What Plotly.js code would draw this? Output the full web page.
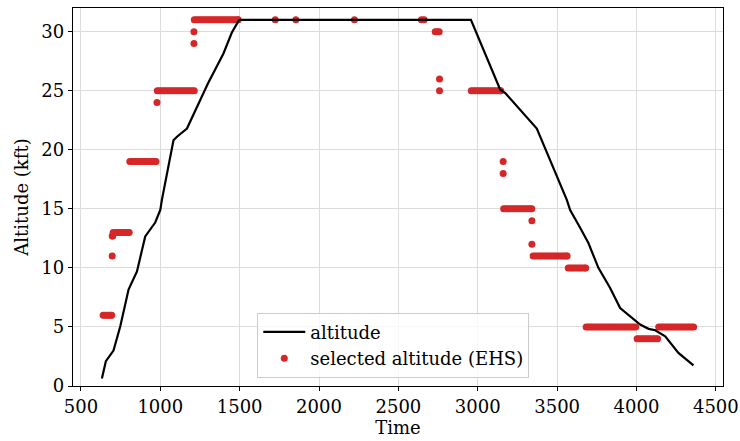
<!DOCTYPE html>
<html>
<head>
<meta charset="utf-8">
<script src="https://cdn.plot.ly/plotly-3.0.1.min.js"></script>
<style>html,body{margin:0;padding:0;background:#fff;}#chart{width:740px;height:441px;}</style>
</head>
<body>
<div id="chart"></div>
<script>
// Altitude (line), time in seconds, altitude in kft
var altTime = [632, 657, 705, 748, 800, 853, 905, 968, 1000, 1010, 1083, 1105, 1168, 1231, 1300, 1398, 1450, 1493, 1500, 2957, 3141, 3173, 3372, 3561, 3582, 3645, 3697, 3760, 3834, 3897, 3971, 4023, 4076, 4118, 4181, 4264, 4359];
var altKft  = [0.64, 2.1, 3.0, 5.06, 8.16, 9.7, 12.66, 13.84, 14.9, 15.76, 20.8, 21.1, 21.8, 23.6, 25.6, 28.15, 29.9, 30.9, 31.0, 31.0, 25.1, 24.8, 21.8, 15.76, 14.9, 13.4, 12.1, 10.0, 8.3, 6.6, 5.77, 5.2, 4.84, 4.72, 4.2, 2.8, 1.74];

// Selected altitude (EHS) points
var selTime = [
  640, 652, 664, 676, 688, 694,
  697,
  697, 700,
  703, 716, 729, 742, 755, 768, 781, 794, 804,
  808, 821, 834, 847, 860, 873, 886, 899, 912, 925, 938, 951, 964, 973,
  979,
  981, 994, 1007, 1020, 1033, 1046, 1059, 1072, 1085, 1098, 1111, 1124, 1137, 1150, 1163, 1176, 1189, 1202, 1214,
  1212,
  1212,
  1214, 1227, 1240, 1253, 1266, 1279, 1292, 1305, 1318, 1331, 1344, 1357, 1370, 1383, 1396, 1409, 1422, 1435, 1448, 1461, 1474, 1487, 1491,
  1724, 1854, 2223, 2645, 2662,
  2732, 2745, 2757,
  2759,
  2759,
  2959, 2972, 2985, 2998, 3011, 3024, 3037, 3050, 3063, 3076, 3089, 3102, 3115, 3128, 3141, 3145,
  3160,
  3160,
  3163, 3176, 3189, 3202, 3215, 3228, 3241, 3254, 3267, 3280, 3293, 3306, 3319, 3332, 3340,
  3341,
  3341,
  3349, 3362, 3375, 3388, 3401, 3414, 3427, 3440, 3453, 3466, 3479, 3492, 3505, 3518, 3531, 3544, 3557, 3563,
  3570, 3583, 3596, 3609, 3622, 3635, 3648, 3661, 3674, 3680,
  3683, 3696, 3709, 3722, 3735, 3748, 3761, 3774, 3787, 3800, 3813, 3826, 3839, 3852, 3865, 3878, 3891, 3904, 3917, 3930, 3943, 3956, 3969, 3982, 3995,
  4004, 4017, 4030, 4043, 4056, 4069, 4082, 4095, 4108, 4121, 4133,
  4140, 4153, 4166, 4179, 4192, 4205, 4218, 4231, 4244, 4257, 4270, 4283, 4296, 4309, 4322, 4335, 4348, 4360
];
var selKft = [
  6, 6, 6, 6, 6, 6,
  11,
  12.7, 12.7,
  13, 13, 13, 13, 13, 13, 13, 13, 13,
  19, 19, 19, 19, 19, 19, 19, 19, 19, 19, 19, 19, 19, 19,
  24,
  25, 25, 25, 25, 25, 25, 25, 25, 25, 25, 25, 25, 25, 25, 25, 25, 25, 25, 25,
  29,
  30,
  31, 31, 31, 31, 31, 31, 31, 31, 31, 31, 31, 31, 31, 31, 31, 31, 31, 31, 31, 31, 31, 31, 31,
  31, 31, 31, 31, 31,
  30, 30, 30,
  26,
  25,
  25, 25, 25, 25, 25, 25, 25, 25, 25, 25, 25, 25, 25, 25, 25, 25,
  19,
  18,
  15, 15, 15, 15, 15, 15, 15, 15, 15, 15, 15, 15, 15, 15, 15,
  14,
  12,
  11, 11, 11, 11, 11, 11, 11, 11, 11, 11, 11, 11, 11, 11, 11, 11, 11, 11,
  10, 10, 10, 10, 10, 10, 10, 10, 10, 10,
  5, 5, 5, 5, 5, 5, 5, 5, 5, 5, 5, 5, 5, 5, 5, 5, 5, 5, 5, 5, 5, 5, 5, 5, 5,
  4, 4, 4, 4, 4, 4, 4, 4, 4, 4, 4,
  5, 5, 5, 5, 5, 5, 5, 5, 5, 5, 5, 5, 5, 5, 5, 5, 5, 5
];

var xTicks = [500, 1000, 1500, 2000, 2500, 3000, 3500, 4000, 4500];
var yTicks = [0, 5, 10, 15, 20, 25, 30];

var traces = [
  {
    x: selTime, y: selKft, type: 'scatter', mode: 'markers',
    name: 'selected altitude (EHS)', legendrank: 2,
    marker: {color: '#d62728', size: 7, line: {width: 0}}
  },
  {
    x: altTime, y: altKft, type: 'scatter', mode: 'lines',
    name: 'altitude', legendrank: 1,
    line: {color: '#000000', width: 2.2}
  }
];

var axisCommon = {
  showgrid: true, gridcolor: '#dcdcdc', gridwidth: 1,
  zeroline: false, showline: true, linecolor: '#000', linewidth: 1.2, mirror: true,
  ticks: 'outside', ticklen: 4, tickcolor: '#000', tickwidth: 1,
  tickfont: {size: 18, color: '#000'}
};

var layout = {
  width: 740, height: 441,
  margin: {l: 73, r: 17, t: 8, b: 55},
  paper_bgcolor: '#fff', plot_bgcolor: '#fff',
  font: {family: '"DejaVu Serif", serif', size: 18, color: '#000'},
  showlegend: true,
  xaxis: Object.assign({}, axisCommon, {
    range: [450, 4545], tickvals: xTicks, ticktext: xTicks.map(String),
    title: {text: 'Time', font: {size: 18}, standoff: 5}
  }),
  yaxis: Object.assign({}, axisCommon, {
    range: [0, 32.0], tickvals: yTicks, ticktext: yTicks.map(String),
    title: {text: 'Altitude (kft)', font: {size: 18}, standoff: 8}
  }),
  legend: {
    x: 0.2835, y: 0.022, xanchor: 'left', yanchor: 'bottom',
    bgcolor: 'rgba(255,255,255,0.8)', bordercolor: '#cccccc', borderwidth: 1,
    font: {size: 18}, tracegroupgap: 0, itemwidth: 42
  }
};

Plotly.newPlot('chart', traces, layout, {displayModeBar: false, staticPlot: true});
</script>
</body>
</html>
